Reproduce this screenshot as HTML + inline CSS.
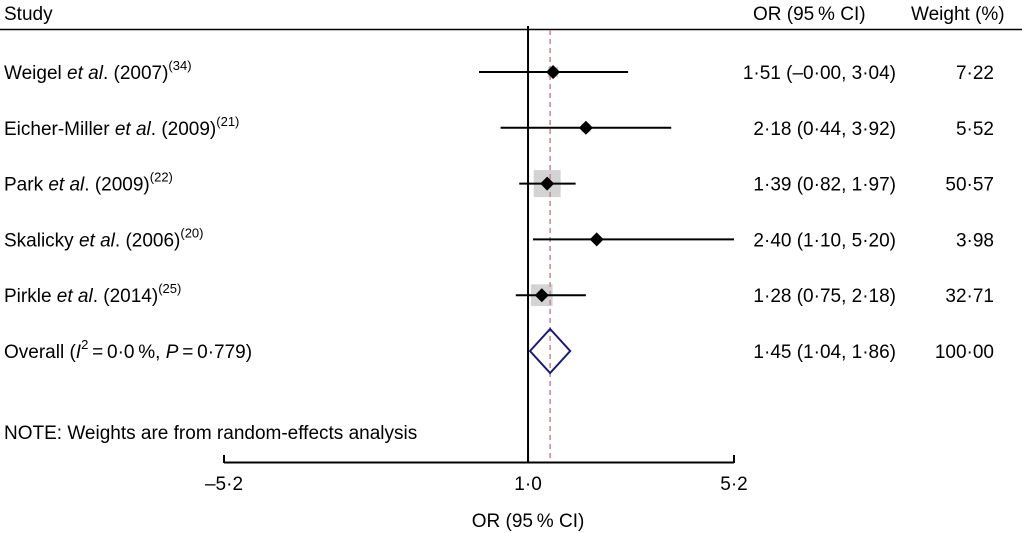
<!DOCTYPE html>
<html><head><meta charset="utf-8"><style>
html,body{margin:0;padding:0;background:#fff;}
svg{display:block;font-family:"Liberation Sans",Arial,sans-serif;}
text{font-size:19px;fill:#000;}
</style></head><body>
<svg id="chart" width="1022" height="533" viewBox="0 0 1022 533" xmlns="http://www.w3.org/2000/svg"></svg>
<script>
const studies = ["Weigel", "Eicher-Miller", "Park", "Skalicky", "Pirkle"];
const years = ["(2007)", "(2009)", "(2009)", "(2006)", "(2014)"];
const refs = ["(34)", "(21)", "(22)", "(20)", "(25)"];
const orValues = [1.51, 2.18, 1.39, 2.40, 1.28];
const ciLow = [-0.00, 0.44, 0.82, 1.10, 0.75];
const ciHigh = [3.04, 3.92, 1.97, 5.20, 2.18];
const weights = [7.22, 5.52, 50.57, 3.98, 32.71];
const ciLabels = ["1·51 (–0·00, 3·04)", "2·18 (0·44, 3·92)", "1·39 (0·82, 1·97)", "2·40 (1·10, 5·20)", "1·28 (0·75, 2·18)"];
const weightLabels = ["7·22", "5·52", "50·57", "3·98", "32·71"];
const overall = [1.45, 1.04, 1.86];
const overallLabel = "1·45 (1·04, 1·86)";
const overallWeight = "100·00";
const xTicks = [-5.2, 1.0, 5.2];
const xTickLabels = ["–5·2", "1·0", "5·2"];

const NS = "http://www.w3.org/2000/svg";
const svg = document.getElementById('chart');
const X0 = 224, X1 = 734, D0 = -5.2, D1 = 5.2;
function x(v){ return X0 + (v - D0) / (D1 - D0) * (X1 - X0); }
const rowY0 = 72, rowStep = 55.8;
function y(i){ return rowY0 + i * rowStep; }
function mk(tag, attrs){ const e = document.createElementNS(NS, tag); for (const k in attrs) e.setAttribute(k, attrs[k]); svg.appendChild(e); return e; }
function txt(s, xx, yy, anchor){ const t = mk('text', {x: xx, y: yy, 'text-anchor': anchor || 'start'}); t.textContent = s; return t; }

let t = txt("Study", 4, 20);
t.setAttribute('font-size', '20');


t = txt("OR (95\u2009% CI)", 753, 20);
t.setAttribute('font-size', '21.5');


t = txt("Weight (%)", 911, 20);
t.setAttribute('font-size', '21.5');


let l = mk('line', {x1: 0, x2: 1022, y1: 29.5, y2: 29.5, stroke: '#000', 'stroke-width': 1.5});



l = mk('line', {x1: x(1.0), x2: x(1.0), y1: 26, y2: 463, stroke: '#000', 'stroke-width': 2});



studies.forEach((s, i) => {
  const side = 3.8 * Math.sqrt(weights[i]);
  const r = mk('rect', {x: x(orValues[i]) - side / 2, y: y(i) - side / 2, width: side, height: side, fill: '#d3d3d3'});
  
  
});
l = mk('line', {x1: x(overall[0]), x2: x(overall[0]), y1: 30, y2: 463, stroke: '#c9868e', 'stroke-width': 1.5, 'stroke-dasharray': '5,4'});



studies.forEach((s, i) => {
  const yy = y(i);
  const ci = mk('line', {x1: x(ciLow[i]), x2: x(ciHigh[i]), y1: yy, y2: yy, stroke: '#000', 'stroke-width': 2});
  
  
  const cx = x(orValues[i]);
  const p = mk('polygon', {points: `${cx},${yy-7} ${cx+7},${yy} ${cx},${yy+7} ${cx-7},${yy}`, fill: '#000'});
  
  
  const lab = mk('text', {x: 4, y: yy + 7});
  
  
  lab.innerHTML = `${s} <tspan font-style="italic">et al</tspan>. ${years[i]}<tspan font-size="13" dy="-9">${refs[i]}</tspan>`;
  const c = txt(ciLabels[i], 896, yy + 7, 'end');
  
  
  const w = txt(weightLabels[i], 994, yy + 7, 'end');
  
  
});

const oy = y(5);
const dm = mk('polygon', {points: `${x(overall[1])},${oy} ${x(overall[0])},${oy-22} ${x(overall[2])},${oy} ${x(overall[0])},${oy+22}`, fill: 'none', stroke: '#1a1a7a', 'stroke-width': 2});


const ol = mk('text', {x: 4, y: oy + 7});


ol.innerHTML = 'Overall (<tspan font-style="italic">I</tspan><tspan font-size="13" dy="-9">2</tspan><tspan dy="9">\u2009=\u20090·0\u2009%, </tspan><tspan font-style="italic">P</tspan>\u2009=\u20090·779)';
t = txt(overallLabel, 896, oy + 7, 'end');


t = txt(overallWeight, 994, oy + 7, 'end');



t = txt("NOTE: Weights are from random-effects analysis", 4, 439);



l = mk('line', {x1: x(D0), x2: x(D1), y1: 462.5, y2: 462.5, stroke: '#000', 'stroke-width': 2});


xTicks.forEach((v, i) => {
  const tk = mk('line', {x1: x(v), x2: x(v), y1: 455, y2: 463, stroke: '#000', 'stroke-width': 2});
  
  
  const tl = txt(xTickLabels[i], x(v), 490, 'middle');
  
  
});
t = txt("OR (95\u2009% CI)", x(1.0), 527, 'middle');
t.setAttribute('font-size', '20');


</script>
</body></html>
